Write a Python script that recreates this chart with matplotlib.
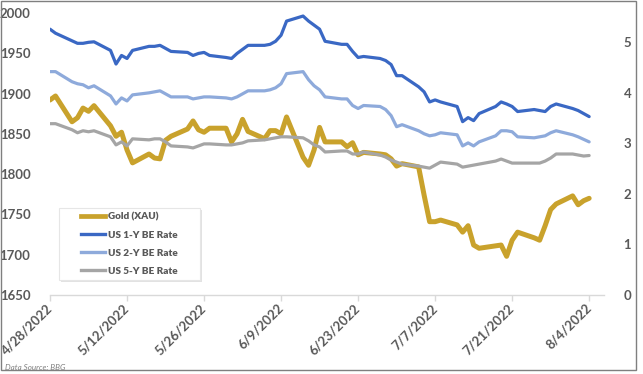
import matplotlib
matplotlib.use("Agg")
import matplotlib.pyplot as plt
import matplotlib.dates as mdates
from matplotlib.patches import Rectangle
from matplotlib.lines import Line2D
import pandas as pd

# ---------------- data ----------------
dates = pd.bdate_range("2022-04-28", "2022-08-04")  # weekdays

gold = [1892, 1897,
        1865, 1870, 1882, 1878, 1885,
        1860, 1847, 1852, 1830, 1814,
        1825, 1820, 1819, 1842, 1847,
        1856, 1866, 1855, 1852, 1857,
        1857, 1840, 1850, 1868, 1853,
        1844, 1854, 1854, 1850, 1871,
        1821, 1811, 1830, 1858, 1840,
        1840, 1834, 1839, 1824, 1827,
        1825, 1824, 1819, 1810, 1813,
        1809, 1774, 1741, 1741, 1743,
        1737, 1728, 1736, 1712, 1708,
        1711, 1712, 1698, 1718, 1728,
        1721, 1718, 1736, 1756, 1763,
        1773, 1762, 1767, 1770]

be1y = [5.26, 5.18,
        5.03, 4.98, 4.98, 5.00, 5.01,
        4.84, 4.57, 4.74, 4.68, 4.84,
        4.92, 4.92, 4.94, 4.88, 4.82,
        4.80, 4.74, 4.78, 4.80, 4.74,
        4.70, 4.68, 4.78, 4.86, 4.94,
        4.94, 4.96, 5.02, 5.14, 5.42,
        5.52, 5.42, 5.34, 5.26, 5.02,
        4.96, 4.96, 4.82, 4.70, 4.72,
        4.68, 4.64, 4.56, 4.34, 4.34,
        4.12, 4.02, 3.82, 3.86, 3.82,
        3.73, 3.43, 3.51, 3.45, 3.59,
        3.73, 3.82, 3.78, 3.73, 3.63,
        3.67, 3.65, 3.63, 3.73, 3.78,
        3.69, 3.65, 3.59, 3.53]

be2y = [4.42, 4.42,
        4.22, 4.18, 4.16, 4.10, 4.14,
        3.94, 3.78, 3.90, 3.84, 3.96,
        4.00, 4.02, 4.04, 3.98, 3.92,
        3.92, 3.88, 3.90, 3.92, 3.92,
        3.90, 3.88, 3.92, 3.98, 4.04,
        4.04, 4.06, 4.10, 4.18, 4.38,
        4.42, 4.26, 4.14, 4.06, 3.92,
        3.88, 3.88, 3.75, 3.69, 3.75,
        3.73, 3.67, 3.55, 3.33, 3.37,
        3.25, 3.19, 3.15, 3.17, 3.21,
        3.17, 2.95, 3.01, 2.95, 3.03,
        3.15, 3.25, 3.25, 3.23, 3.13,
        3.11, 3.13, 3.15, 3.21, 3.25,
        3.17, 3.13, 3.08, 3.03]

be5y = [3.39, 3.39,
        3.27, 3.21, 3.25, 3.23, 3.25,
        3.13, 2.97, 3.03, 2.95, 3.09,
        3.07, 3.09, 3.09, 3.03, 2.95,
        2.93, 2.91, 2.95, 2.99, 2.99,
        2.97, 2.97, 2.99, 3.01, 3.05,
        3.07, 3.09, 3.11, 3.13, 3.13,
        3.11, 3.05, 2.97, 2.93, 2.83,
        2.85, 2.85, 2.79, 2.79, 2.83,
        2.77, 2.73, 2.67, 2.63, 2.59,
        2.55, 2.53, 2.51, 2.57, 2.63,
        2.59, 2.53, 2.55, 2.57, 2.59,
        2.65, 2.69, 2.65, 2.61, 2.61,
        2.61, 2.61, 2.65, 2.71, 2.79,
        2.79, 2.77, 2.75, 2.76]

tick_dates = pd.date_range("2022-04-28", "2022-08-04", freq="14D")
left_ticks = [1650, 1700, 1750, 1800, 1850, 1900, 1950, 2000]
right_ticks = [0, 1, 2, 3, 4, 5]
labels = ["Gold (XAU)", "US 1-Y BE Rate", "US 2-Y BE Rate", "US 5-Y BE Rate"]

# ---------------- style ----------------
GOLD = "#C9A22C"
BLUE = "#3A68C4"
LBLUE = "#8EAADB"
GRAY = "#A5A5A5"
TXT = "#595959"
FONT = ["Lato", "DejaVu Sans"]
plt.rcParams["font.family"] = FONT

W, H = 643, 374
fig = plt.figure(figsize=(W / 100, H / 100), dpi=100)

# outer border
fig.patches.append(Rectangle((1 / W, 1 - 370 / H), 635 / W, 369 / H,
                             transform=fig.transFigure, fill=False,
                             edgecolor="#7F7F7F", lw=1.0))

ax = fig.add_axes([50 / W, 1 - 295 / H, 554 / W, 282 / H])
ax2 = ax.twinx()

ax.plot(dates, gold, color=GOLD, lw=3.6, solid_joinstyle="round",
        solid_capstyle="round", zorder=3)
ax2.plot(dates, be1y, color=BLUE, lw=2.3, solid_joinstyle="round",
         solid_capstyle="round")
ax2.plot(dates, be2y, color=LBLUE, lw=2.3, solid_joinstyle="round",
         solid_capstyle="round")
ax2.plot(dates, be5y, color=GRAY, lw=2.3, solid_joinstyle="round",
         solid_capstyle="round")

start = pd.Timestamp("2022-04-28")
ax.set_xlim(start, start + pd.Timedelta(days=100.7))
ax.set_ylim(1650, 2000)
ax2.set_ylim(0, 5.58)

ax.set_yticks(left_ticks)
ax2.set_yticks(right_ticks)

for a in (ax, ax2):
    for s in a.spines.values():
        s.set_visible(False)
    a.patch.set_visible(False)
ax.spines["bottom"].set_visible(True)
ax.spines["bottom"].set_color("#D9D9D9")
ax.spines["bottom"].set_linewidth(1.0)

ax.xaxis.set_major_locator(matplotlib.ticker.FixedLocator(mdates.date2num(tick_dates)))
ax.xaxis.set_major_formatter(matplotlib.ticker.FuncFormatter(
    lambda v, p: (lambda d: f"{d.month}/{d.day}/{d.year}")(mdates.num2date(v))))
ax.tick_params(axis="x", direction="out", length=4, width=1, color="#D9D9D9",
               pad=4, labelsize=9.5, labelcolor=TXT)
for lab in ax.get_xticklabels():
    lab.set_rotation(45)
    lab.set_ha("right")
    lab.set_va("center")
    lab.set_rotation_mode("anchor")
    lab.set_fontweight("bold")

ax.tick_params(axis="y", length=0, pad=14, labelsize=9.5, labelcolor=TXT)
ax2.tick_params(axis="y", length=0, pad=14, labelsize=9.5, labelcolor=TXT)
for lab in ax.get_yticklabels() + ax2.get_yticklabels():
    lab.set_fontweight("bold")

# legend box with shadow
bx0, by0, bx1, by1 = 59, 208, 200, 280
fig.patches.append(Rectangle(((bx0 + 2) / W, 1 - (by1 + 2) / H), (bx1 - bx0) / W,
                             (by1 - by0) / H, transform=fig.transFigure,
                             facecolor="#D0D0D0", edgecolor="none", alpha=0.6, zorder=5))
fig.patches.append(Rectangle((bx0 / W, 1 - by1 / H), (bx1 - bx0) / W,
                             (by1 - by0) / H, transform=fig.transFigure,
                             facecolor="white", edgecolor="#E6E6E6", lw=0.8, zorder=6))
handles = [Line2D([], [], color=GOLD, lw=3.4),
           Line2D([], [], color=BLUE, lw=2.4),
           Line2D([], [], color=LBLUE, lw=2.4),
           Line2D([], [], color=GRAY, lw=2.4)]
leg = fig.legend(handles, labels, loc="center",
                 bbox_to_anchor=((bx0 + bx1) / 2 / W, 1 - (by0 + by1) / 2 / H),
                 bbox_transform=fig.transFigure, frameon=False,
                 prop={"family": FONT, "weight": "heavy", "size": 7.2},
                 labelcolor=TXT, handlelength=2.4, handletextpad=0.35,
                 labelspacing=0.9)
leg.set_zorder(7)

fig.text(5 / W, 1 - 367 / H, "Data Source: BBG", fontsize=5.8, style="italic",
         color="#7F7F7F", va="center", ha="left")

fig.savefig("out.png", dpi=100)
